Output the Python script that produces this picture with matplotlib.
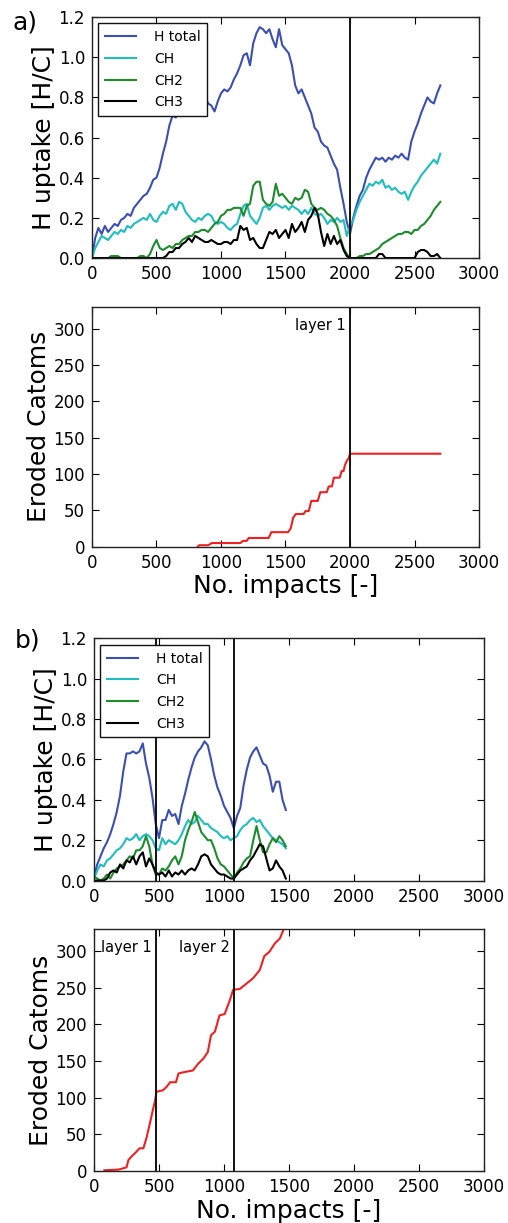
import matplotlib
matplotlib.use("Agg")
import matplotlib.pyplot as plt

# ---- datos panel a) ----
impactos_a = list(range(0, 2701, 25))

h_total_a = [
    0.00, 0.10, 0.15, 0.12, 0.16, 0.13, 0.15, 0.17, 0.16, 0.19,
    0.20, 0.22, 0.21, 0.25, 0.27, 0.29, 0.31, 0.32, 0.35, 0.39,
    0.40, 0.45, 0.52, 0.58, 0.66, 0.71, 0.70, 0.73, 0.75, 0.77,
    0.80, 0.79, 0.78, 0.80, 0.79, 0.81, 0.77, 0.76, 0.73, 0.78,
    0.82, 0.84, 0.83, 0.85, 0.89, 0.92, 0.96, 1.01, 1.02, 0.96,
    1.07, 1.12, 1.15, 1.14, 1.12, 1.14, 1.09, 1.05, 1.14, 1.06,
    1.04, 1.02, 0.96, 0.86, 0.82, 0.84, 0.80, 0.76, 0.72, 0.65,
    0.63, 0.58, 0.56, 0.55, 0.51, 0.47, 0.44, 0.35, 0.27, 0.18,
    0.12, 0.20, 0.26, 0.31, 0.34, 0.40, 0.44, 0.47, 0.50, 0.49,
    0.50, 0.48, 0.50, 0.49, 0.51, 0.50, 0.52, 0.50, 0.49, 0.58,
    0.63, 0.67, 0.72, 0.76, 0.80, 0.78, 0.77, 0.82, 0.86,
]
ch_a = [
    0.00, 0.05, 0.08, 0.11, 0.10, 0.09, 0.11, 0.13, 0.12, 0.14,
    0.13, 0.16, 0.15, 0.17, 0.18, 0.19, 0.20, 0.19, 0.22, 0.19,
    0.18, 0.21, 0.23, 0.22, 0.26, 0.27, 0.24, 0.28, 0.27, 0.23,
    0.21, 0.19, 0.18, 0.20, 0.19, 0.21, 0.22, 0.21, 0.18, 0.17,
    0.18, 0.17, 0.15, 0.14, 0.16, 0.17, 0.22, 0.26, 0.27, 0.21,
    0.19, 0.17, 0.20, 0.25, 0.26, 0.24, 0.26, 0.27, 0.26, 0.25,
    0.26, 0.24, 0.26, 0.25, 0.24, 0.22, 0.24, 0.22, 0.25, 0.22,
    0.21, 0.22, 0.20, 0.17, 0.19, 0.18, 0.20, 0.18, 0.19, 0.11,
    0.16, 0.19, 0.24, 0.28, 0.31, 0.34, 0.37, 0.36, 0.38, 0.37,
    0.39, 0.35, 0.36, 0.34, 0.35, 0.33, 0.32, 0.33, 0.29, 0.33,
    0.36, 0.38, 0.41, 0.43, 0.45, 0.47, 0.49, 0.47, 0.52,
]
ch2_a = [
    0.00, 0.00, 0.00, 0.00, 0.00, 0.00, 0.01, 0.01, 0.01, 0.00,
    0.00, 0.00, 0.00, 0.00, 0.00, 0.01, 0.01, 0.00, 0.02, 0.06,
    0.09, 0.05, 0.04, 0.05, 0.06, 0.05, 0.07, 0.07, 0.09, 0.10,
    0.11, 0.11, 0.13, 0.13, 0.14, 0.14, 0.13, 0.15, 0.17, 0.18,
    0.21, 0.22, 0.24, 0.24, 0.25, 0.25, 0.25, 0.21, 0.26, 0.27,
    0.36, 0.38, 0.38, 0.29, 0.27, 0.26, 0.28, 0.37, 0.31, 0.32,
    0.30, 0.28, 0.27, 0.30, 0.29, 0.30, 0.34, 0.33, 0.27, 0.25,
    0.24, 0.25, 0.24, 0.22, 0.21, 0.19, 0.16, 0.10, 0.05, 0.02,
    0.00, 0.00, 0.00, 0.01, 0.01, 0.02, 0.02, 0.03, 0.04, 0.05,
    0.07, 0.08, 0.09, 0.10, 0.11, 0.12, 0.12, 0.13, 0.13, 0.12,
    0.14, 0.14, 0.16, 0.17, 0.19, 0.21, 0.24, 0.26, 0.28,
]
ch3_a = [
    0.00, 0.00, 0.00, 0.00, 0.00, 0.00, 0.00, 0.00, 0.00, 0.00,
    0.00, 0.00, 0.00, 0.00, 0.00, 0.00, 0.00, 0.00, 0.00, 0.00,
    0.00, 0.00, 0.00, 0.01, 0.03, 0.03, 0.05, 0.05, 0.07, 0.08,
    0.10, 0.08, 0.11, 0.10, 0.09, 0.08, 0.08, 0.09, 0.08, 0.07,
    0.07, 0.08, 0.08, 0.07, 0.09, 0.09, 0.16, 0.14, 0.15, 0.09,
    0.10, 0.07, 0.05, 0.05, 0.09, 0.13, 0.12, 0.14, 0.10, 0.12,
    0.14, 0.10, 0.17, 0.13, 0.15, 0.18, 0.13, 0.19, 0.21, 0.25,
    0.22, 0.13, 0.06, 0.12, 0.07, 0.11, 0.07, 0.09, 0.04, 0.01,
    0.00, 0.00, 0.00, 0.00, 0.00, 0.00, 0.00, 0.00, 0.00, 0.02,
    0.02, 0.00, 0.00, 0.00, 0.00, 0.00, 0.00, 0.00, 0.00, 0.00,
    0.00, 0.03, 0.04, 0.04, 0.03, 0.01, 0.01, 0.02, 0.00,
]
erosion_x_a = [820, 830, 900, 930, 1150, 1170, 1200, 1215, 1370, 1390, 1520, 1540,
               1560, 1580, 1640, 1655, 1680, 1700, 1750, 1770, 1820, 1835, 1860,
               1875, 1920, 1935, 1950, 1960, 1975, 1990, 2000, 2700]
erosion_y_a = [0, 2, 2, 5, 5, 8, 8, 12, 12, 20, 20, 25,
               40, 45, 45, 49, 49, 63, 63, 75, 75, 83, 83,
               95, 95, 104, 104, 112, 118, 122, 128, 128]
capas_a = [2000]
etiquetas_capas_a = ["layer 1"]

# ---- datos panel b) ----
impactos_b = list(range(0, 1476, 25))

h_total_b = [
    0.02, 0.08, 0.12, 0.16, 0.19, 0.23, 0.28, 0.34, 0.42, 0.54,
    0.63, 0.63, 0.64, 0.63, 0.64, 0.68, 0.58, 0.51, 0.41, 0.28,
    0.21, 0.30, 0.30, 0.35, 0.32, 0.33, 0.28, 0.37, 0.43, 0.50,
    0.56, 0.61, 0.64, 0.66, 0.69, 0.67, 0.60, 0.52, 0.46, 0.42,
    0.37, 0.34, 0.31, 0.26, 0.32, 0.36, 0.47, 0.55, 0.61, 0.64,
    0.66, 0.62, 0.58, 0.57, 0.52, 0.44, 0.49, 0.49, 0.40, 0.35,
]
ch_b = [
    0.01, 0.05, 0.08, 0.07, 0.10, 0.11, 0.13, 0.15, 0.16, 0.18,
    0.21, 0.20, 0.21, 0.23, 0.20, 0.22, 0.23, 0.22, 0.20, 0.16,
    0.15, 0.21, 0.18, 0.20, 0.19, 0.18, 0.20, 0.23, 0.27, 0.30,
    0.28, 0.29, 0.32, 0.30, 0.28, 0.28, 0.26, 0.25, 0.24, 0.22,
    0.21, 0.22, 0.20, 0.21, 0.22, 0.25, 0.27, 0.28, 0.30, 0.31,
    0.29, 0.30, 0.27, 0.25, 0.23, 0.21, 0.20, 0.19, 0.18, 0.16,
]
ch2_b = [
    0.02, 0.01, 0.00, 0.01, 0.03, 0.01, 0.04, 0.06, 0.07, 0.08,
    0.10, 0.12, 0.11, 0.15, 0.15, 0.17, 0.22, 0.17, 0.08, 0.03,
    0.03, 0.06, 0.05, 0.07, 0.10, 0.12, 0.08, 0.12, 0.20, 0.25,
    0.29, 0.34, 0.29, 0.24, 0.22, 0.20, 0.20, 0.16, 0.11, 0.08,
    0.07, 0.05, 0.03, 0.01, 0.04, 0.06, 0.09, 0.11, 0.12, 0.20,
    0.27, 0.20, 0.14, 0.14, 0.18, 0.21, 0.19, 0.22, 0.20, 0.17,
]
ch3_b = [
    0.00, 0.00, 0.00, 0.00, 0.01, 0.04, 0.05, 0.04, 0.08, 0.06,
    0.10, 0.09, 0.12, 0.08, 0.12, 0.14, 0.07, 0.11, 0.08, 0.04,
    0.03, 0.04, 0.02, 0.05, 0.02, 0.04, 0.03, 0.05, 0.03, 0.05,
    0.06, 0.05, 0.08, 0.12, 0.13, 0.12, 0.08, 0.06, 0.04, 0.03,
    0.03, 0.02, 0.01, 0.01, 0.03, 0.05, 0.06, 0.07, 0.10, 0.12,
    0.15, 0.18, 0.17, 0.11, 0.05, 0.06, 0.10, 0.07, 0.05, 0.01,
]
erosion_x_b = [80, 190, 230, 250, 265, 290, 325, 350, 380, 405, 430, 455, 470,
               480, 530, 560, 585, 630, 650, 700, 760, 800, 840, 875, 900, 930,
               965, 1005, 1045, 1070, 1120, 1170, 1225, 1275, 1310, 1350, 1390,
               1430, 1455, 1480]
erosion_y_b = [1, 2, 4, 5, 15, 20, 26, 31, 31, 46, 65, 85, 96,
               108, 110, 115, 121, 121, 133, 135, 137, 146, 153, 162, 185, 190,
               212, 214, 233, 247, 248, 255, 263, 274, 293, 299, 310,
               317, 328, 336]
capas_b = [478, 1080]
etiquetas_capas_b = ["layer 1", "layer 2"]

etiquetas = ["H total", "CH", "CH2", "CH3"]
colores = ["#3b4fb2", "#1fbdbd", "#1d8c2c", "#000000"]
color_erosion = "#ec2222"

x_ticks = [0, 500, 1000, 1500, 2000, 2500, 3000]


def estilo_ejes(ax):
    ax.tick_params(direction="in", top=True, right=True, length=5,
                   labelsize=12, pad=5)
    ax.set_xlim(0, 3000)
    ax.set_xticks(x_ticks)
    for s in ax.spines.values():
        s.set_linewidth(1.0)
        s.set_color("#222222")


def graficar_uptake(ax, x, series, capas):
    for serie, etiqueta, color in zip(series, etiquetas, colores):
        ax.plot(x, serie, color=color, linewidth=1.5, label=etiqueta)
    for c in capas:
        ax.axvline(c, color="#111111", linewidth=1.4)
    estilo_ejes(ax)
    ax.set_ylim(0, 1.2)
    ax.set_yticks([0.0, 0.2, 0.4, 0.6, 0.8, 1.0, 1.2])
    ax.set_yticklabels(["0.0", "0.2", "0.4", "0.6", "0.8", "1.0", "1.2"])
    ax.set_ylabel("H uptake [H/C]", fontsize=18, labelpad=2)
    leg = ax.legend(loc="upper left", fontsize=10, fancybox=False,
                    framealpha=1, edgecolor="#111111", handlelength=2.2,
                    handletextpad=1.3, labelspacing=0.55, borderpad=0.5,
                    borderaxespad=0.45)
    leg.get_frame().set_linewidth(1.0)
    leg.set_zorder(5)


def graficar_erosion(ax, ex, ey, capas, textos):
    ax.plot(ex, ey, color=color_erosion, linewidth=1.5)
    for c, t in zip(capas, textos):
        ax.axvline(c, color="#111111", linewidth=1.4)
        ax.text(c - 35, 304, t, ha="right", va="center", fontsize=10.5)
    estilo_ejes(ax)
    ax.set_ylim(0, 330)
    ax.set_yticks([0, 50, 100, 150, 200, 250, 300])
    ax.set_ylabel("Eroded Catoms", fontsize=18, labelpad=2)
    ax.set_xlabel("No. impacts [-]", fontsize=18, labelpad=2)


fig = plt.figure(figsize=(5.08, 12.23), dpi=100)

ax1 = fig.add_axes([0.181, 0.789, 0.762, 0.197])
ax2 = fig.add_axes([0.181, 0.553, 0.762, 0.196])
ax3 = fig.add_axes([0.185, 0.280, 0.768, 0.198])
ax4 = fig.add_axes([0.185, 0.0425, 0.768, 0.198])

graficar_uptake(ax1, impactos_a, [h_total_a, ch_a, ch2_a, ch3_a], capas_a)
graficar_erosion(ax2, erosion_x_a, erosion_y_a, capas_a, etiquetas_capas_a)
graficar_uptake(ax3, impactos_b, [h_total_b, ch_b, ch2_b, ch3_b], capas_b)
graficar_erosion(ax4, erosion_x_b, erosion_y_b, capas_b, etiquetas_capas_b)

fig.text(0.025, 0.9815, "a)", fontsize=18, ha="left", va="center")
fig.text(0.03, 0.4765, "b)", fontsize=18, ha="left", va="center")

fig.savefig("out.png", dpi=100)
